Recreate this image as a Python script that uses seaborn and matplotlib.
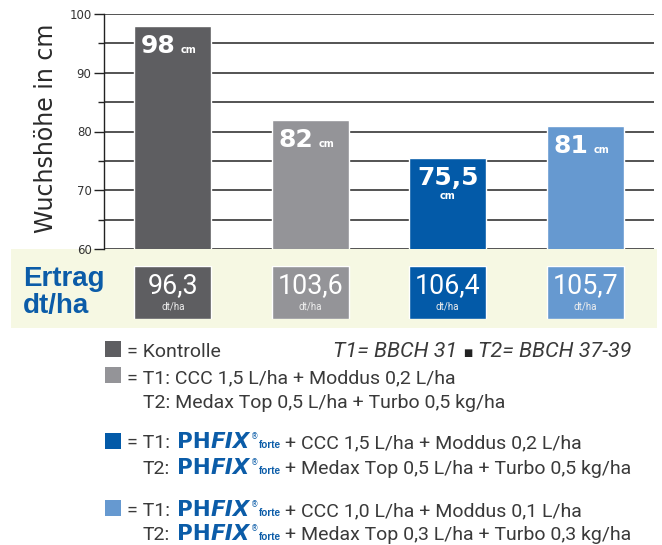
import matplotlib
matplotlib.use('Agg')
import matplotlib.pyplot as plt
from matplotlib.patches import Rectangle
from matplotlib.transforms import IdentityTransform
import seaborn as sns
import pandas as pd

# ---------------- data ----------------
categories = ['Kontrolle', 'CCC + Moddus / Medax Top + Turbo',
              'PHFIX forte + CCC + Moddus / Medax Top + Turbo',
              'PHFIX forte + reduzierte Mengen']
heights = [98, 82, 75.5, 81]
height_labels = ['98', '82', '75,5', '81']
yields = [96.3, 103.6, 106.4, 105.7]
yield_labels = ['96,3', '103,6', '106,4', '105,7']
colors = ['#5e5e61', '#949498', '#035aa8', '#6699d0']
yticks = [60, 70, 80, 90, 100]
minor_yticks = [65, 75, 85, 95]
ylabel = 'Wuchshöhe in cm'
height_unit = 'cm'
yield_unit = 'dt/ha'
yield_title = ['Ertrag', 'dt/ha']
stage_left = 'T1= BBCH 31'
stage_right = 'T2= BBCH 37-39'
legend_lines = [
    '= Kontrolle',
    '= T1: CCC 1,5 L/ha + Moddus 0,2 L/ha',
    'T2: Medax Top 0,5 L/ha + Turbo 0,5 kg/ha',
    '= T1: {P} + CCC 1,5 L/ha + Moddus 0,2 L/ha',
    'T2: {P} + Medax Top 0,5 L/ha + Turbo 0,5 kg/ha',
    '= T1: {P} + CCC 1,0 L/ha + Moddus 0,1 L/ha',
    'T2: {P} + Medax Top 0,3 L/ha + Turbo 0,3 kg/ha',
]
legend_color_of_line = [0, 1, None, 2, None, 3, None]

# ---------------- layout ----------------
W, H = 662, 545
sns.set_theme(style='white')
plt.rcParams['font.family'] = ['DejaVu Sans']
CONDENSED = ['Roboto', 'Liberation Sans']
TXT = '#3a3a3a'
BLUE = '#0b5ca8'

fig = plt.figure(figsize=(W / 100, H / 100), dpi=100)
fig.patch.set_facecolor('white')
R = fig.canvas.get_renderer()
ID = IdentityTransform()


def fx(px):
    return px / W


def fy(py):
    return 1 - py / H


def fit_size(text, target_w, base=16, **kw):
    t = fig.text(0, 0, text, transform=ID, fontsize=base, **kw)
    w = t.get_window_extent(R).width
    t.remove()
    return base * target_w / w


# yield band
fig.patches.append(Rectangle((fx(11), fy(328)), fx(657) - fx(11), fy(249) - fy(328),
                             transform=fig.transFigure, facecolor='#f6f8e3',
                             edgecolor='none', zorder=-1))

# main axes
ax = fig.add_axes([fx(104), fy(249), fx(654) - fx(104), fy(14) - fy(249)])
ax.set_facecolor('none')
df = pd.DataFrame({'cat': categories, 'h': heights})
sns.barplot(data=df, x='cat', y='h', hue='cat', palette=colors, legend=False,
            width=0.56, saturation=1, ax=ax, zorder=3)
ax.set_ylim(60, 100)
ax.set_xlim(-0.5, 3.5)
ax.set_yticks(yticks)
ax.set_yticks(minor_yticks, minor=True)
ax.set_yticklabels([str(v) for v in yticks], family='DejaVu Sans', fontsize=8.5, color='#333333')
ax.set_xticks([])
ax.set_xlabel('')
ax.set_ylabel('')
ax.yaxis.grid(True, which='both', color='#454545', linewidth=1.3)
ax.set_axisbelow(True)
for s in ['top', 'right', 'bottom']:
    ax.spines[s].set_visible(False)
ax.spines['left'].set_color('#222222')
ax.spines['left'].set_linewidth(1.0)
ax.tick_params(axis='y', which='major', length=7, width=1, color='#222222', pad=2, left=True)
ax.tick_params(axis='y', which='minor', length=4, width=1, color='#222222', left=True)

fig.text(fx(46), fy(128), ylabel, rotation=90, ha='center', va='center',
         fontsize=17, color='#2a2a2a', family='DejaVu Sans')

# bar value labels
for i, (h, lbl) in enumerate(zip(heights, height_labels)):
    xl, yt = ax.transData.transform((i - 0.28, h))
    xc = ax.transData.transform((i, h))[0]
    base = yt - 27
    if ',' in lbl:
        fig.text(xc, base, lbl, transform=ID, ha='center', va='baseline', color='white',
                 fontsize=18, fontweight='bold', family='DejaVu Sans')
        fig.text(xc, base - 14, height_unit, transform=ID, ha='center', va='baseline',
                 color='white', fontsize=7, fontweight='bold', family='DejaVu Sans')
    else:
        t = fig.text(xl + 7, base, lbl, transform=ID, ha='left', va='baseline', color='white',
                     fontsize=18, fontweight='bold', family='DejaVu Sans')
        bb = t.get_window_extent(R)
        fig.text(bb.x1 + 5, base, height_unit, transform=ID, ha='left', va='baseline',
                 color='white', fontsize=7, fontweight='bold', family='DejaVu Sans')

# yield boxes
ax2 = fig.add_axes([fx(104), fy(319), fx(654) - fx(104), fy(266) - fy(319)])
ax2.set_facecolor('none')
dfy = pd.DataFrame({'cat': categories, 'box': [1] * len(categories)})
sns.barplot(data=dfy, x='cat', y='box', hue='cat', palette=colors, legend=False,
            width=0.56, saturation=1, ax=ax2)
ax2.set_ylim(0, 1)
ax2.set_xlim(-0.5, 3.5)
ax2.axis('off')
ysize = fit_size('103,6', 66, family=CONDENSED)
for i, lbl in enumerate(yield_labels):
    xc = ax2.transData.transform((i, 0))[0]
    fig.text(xc, H - 293, lbl, transform=ID, ha='center', va='baseline', color='white',
             fontsize=ysize, family=CONDENSED)
    fig.text(xc, H - 309, yield_unit, transform=ID, ha='center', va='baseline',
             color='#eeeeee', fontsize=7, family=CONDENSED)

fig.text(23, H - 286, yield_title[0], transform=ID, ha='left', va='baseline',
         color=BLUE, fontsize=20, fontweight='bold', family='Liberation Sans')
fig.text(23, H - 313, yield_title[1], transform=ID, ha='left', va='baseline',
         color=BLUE, fontsize=20, fontweight='bold', family='Liberation Sans')

# ---------------- legend ----------------
lsize = fit_size(legend_lines[1], 328, family=CONDENSED)
STY = {
    'reg': dict(fontsize=lsize, family=CONDENSED, color=TXT),
    'ita': dict(fontsize=lsize * 1.1, family=CONDENSED, color=TXT, style='italic'),
    'ph': dict(fontsize=15.5, family='DejaVu Sans', fontweight='bold', color=BLUE),
    'fix': dict(fontsize=15.5, family='DejaVu Sans', fontweight='bold', style='italic', color=BLUE),
    'reg_mark': dict(fontsize=5.5, family='DejaVu Sans', color=BLUE),
    'forte': dict(fontsize=7.2, family='Liberation Sans', fontweight='bold', color=BLUE),
    'sq': dict(fontsize=7, family='DejaVu Sans', color='#222222'),
}


def put_seq(x, ybase, pieces):
    cx = x
    for s, key, gap, dy in pieces:
        cx += gap
        t = fig.text(cx, H - ybase + dy, s, transform=ID, ha='left', va='baseline', **STY[key])
        cx = t.get_window_extent(R).x1
    return cx


baselines = [357, 383, 408, 448, 474, 516, 540]
square_tops = {0: 341, 1: 367, 2: 433, 3: 500}
for line, base, ci in zip(legend_lines, baselines, legend_color_of_line):
    x0 = 127 if line.startswith('=') else 143
    if ci is not None:
        fig.patches.append(Rectangle((105, H - square_tops[ci] - 16), 16, 16, transform=ID,
                                     facecolor=colors[ci], edgecolor='none'))
    if '{P}' in line:
        a, b = line.split('{P}')
        put_seq(x0, base, [(a.strip(), 'reg', 0, 0), ('PH', 'ph', 7, 0), ('FIX', 'fix', 0, 0),
                           ('®', 'reg_mark', 1, 9), ('forte', 'forte', 0, 0),
                           (b.strip(), 'reg', 4, 0)])
    else:
        put_seq(x0, base, [(line, 'reg', 0, 0)])

put_seq(333, 357, [(stage_left, 'ita', 0, 0), ('■', 'sq', 6, 1), (stage_right, 'ita', 5, 0)])

fig.savefig('out.png', dpi=100, facecolor='white')
